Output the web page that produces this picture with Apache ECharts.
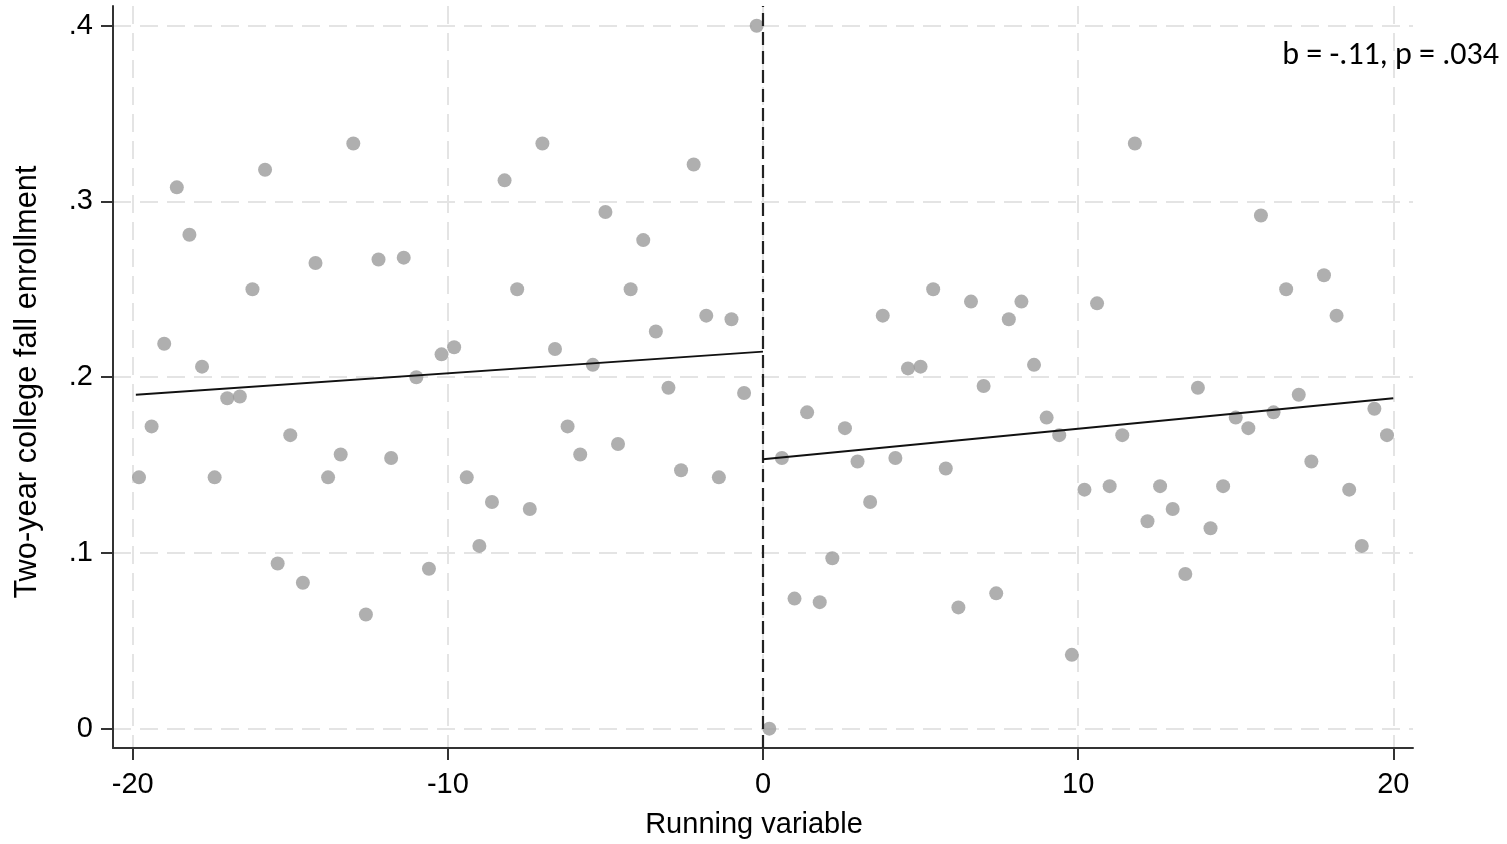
<!DOCTYPE html>
<html>
<head>
<meta charset="utf-8">
<title>Two-year college fall enrollment by running variable</title>
<script src="https://cdn.jsdelivr.net/npm/echarts@6.0.0/dist/echarts.min.js"></script>
<style>
  html, body { margin: 0; padding: 0; background: #ffffff; }
  #chart { width: 1507px; height: 844px; }
</style>
</head>
<body>
<div id="chart"></div>
<script>
// Binned means, left of the cutoff
const leftX = [
  -19.8, -19.4, -19.0, -18.6, -18.2, -17.8, -17.4, -17.0, -16.6, -16.2,
  -15.8, -15.4, -15.0, -14.6, -14.2, -13.8, -13.4, -13.0, -12.6, -12.2,
  -11.8, -11.4, -11.0, -10.6, -10.2, -9.8, -9.4, -9.0, -8.6, -8.2,
  -7.8, -7.4, -7.0, -6.6, -6.2, -5.8, -5.4, -5.0, -4.6, -4.2,
  -3.8, -3.4, -3.0, -2.6, -2.2, -1.8, -1.4, -1.0, -0.6, -0.2
];
const leftY = [
  0.143, 0.172, 0.219, 0.308, 0.281, 0.206, 0.143, 0.188, 0.189, 0.250,
  0.318, 0.094, 0.167, 0.083, 0.265, 0.143, 0.156, 0.333, 0.065, 0.267,
  0.154, 0.268, 0.200, 0.091, 0.213, 0.217, 0.143, 0.104, 0.129, 0.312,
  0.250, 0.125, 0.333, 0.216, 0.172, 0.156, 0.207, 0.294, 0.162, 0.250,
  0.278, 0.226, 0.194, 0.147, 0.321, 0.235, 0.143, 0.233, 0.191, 0.400
];

// Binned means, right of the cutoff
const rightX = [
  0.2, 0.6, 1.0, 1.4, 1.8, 2.2, 2.6, 3.0, 3.4, 3.8,
  4.2, 4.6, 5.0, 5.4, 5.8, 6.2, 6.6, 7.0, 7.4, 7.8,
  8.2, 8.6, 9.0, 9.4, 9.8, 10.2, 10.6, 11.0, 11.4, 11.8,
  12.2, 12.6, 13.0, 13.4, 13.8, 14.2, 14.6, 15.0, 15.4, 15.8,
  16.2, 16.6, 17.0, 17.4, 17.8, 18.2, 18.6, 19.0, 19.4, 19.8
];
const rightY = [
  0.000, 0.154, 0.074, 0.180, 0.072, 0.097, 0.171, 0.152, 0.129, 0.235,
  0.154, 0.205, 0.206, 0.250, 0.148, 0.069, 0.243, 0.195, 0.077, 0.233,
  0.243, 0.207, 0.177, 0.167, 0.042, 0.136, 0.242, 0.138, 0.167, 0.333,
  0.118, 0.138, 0.125, 0.088, 0.194, 0.114, 0.138, 0.177, 0.171, 0.292,
  0.180, 0.250, 0.190, 0.152, 0.258, 0.235, 0.136, 0.104, 0.182, 0.167
];

// Linear fits on each side: [x, y] at the ends of each segment
const leftFitX = [-19.9, 0];
const leftFitY = [0.190, 0.2145];
const rightFitX = [0, 20];
const rightFitY = [0.1533, 0.188];

// Axis ticks and the cutoff
const xTicks = [-20, -10, 0, 10, 20];
const yTicks = [0, 0.1, 0.2, 0.3, 0.4];
const cutoff = 0;

const xTitle = 'Running variable';
const yTitle = 'Two-year college fall enrollment';
const note = 'b = -.11, p = .034';

const pairs = (xs, ys) => xs.map((x, i) => [x, ys[i]]);

const axisFont = 'Liberation Sans, Arial, sans-serif';
const axisLineStyle = { color: '#333333', width: 2 };
const gridLineStyle = { color: '#e4e4e4', width: 2, type: [18, 9] };

const chart = echarts.init(document.getElementById('chart'), null, { renderer: 'canvas' });

chart.setOption({
  animation: false,
  backgroundColor: '#ffffff',
  grid: { left: 113, right: 94, top: 6, bottom: 96, containLabel: false },
  xAxis: {
    type: 'value',
    min: -20.625,
    max: 20.625,
    name: xTitle,
    nameLocation: 'middle',
    nameGap: 62,
    nameTextStyle: {
      fontFamily: axisFont,
      fontSize: 29,
      color: '#000000',
      padding: [0, 18, 0, 0]
    },
    axisLine: { show: true, onZero: false, lineStyle: axisLineStyle },
    axisTick: { show: true, length: 12, lineStyle: axisLineStyle, customValues: xTicks },
    axisLabel: {
      customValues: xTicks,
      margin: 22,
      fontFamily: axisFont,
      fontSize: 29,
      color: '#000000',
      formatter: v => String(v)
    },
    splitLine: { show: true, showMinLine: true, showMaxLine: true, lineStyle: gridLineStyle }
  },
  yAxis: {
    type: 'value',
    min: -0.011,
    max: 0.4112,
    name: yTitle,
    nameLocation: 'middle',
    nameGap: 70,
    nameTextStyle: {
      fontFamily: axisFont,
      fontSize: 30.8,
      color: '#000000',
      padding: [0, 10, 0, 0]
    },
    axisLine: { show: true, onZero: false, lineStyle: axisLineStyle },
    axisTick: { show: true, length: 12, lineStyle: axisLineStyle, customValues: yTicks },
    axisLabel: {
      customValues: yTicks,
      margin: 20,
      fontFamily: axisFont,
      fontSize: 29,
      color: '#000000',
      formatter: v => (Math.abs(v) < 1e-9 ? '0' : v.toFixed(1).replace(/^0/, ''))
    },
    splitLine: { show: true, showMinLine: true, showMaxLine: true, lineStyle: gridLineStyle }
  },
  series: [
    {
      name: 'Below cutoff',
      type: 'scatter',
      data: pairs(leftX, leftY),
      symbol: 'circle',
      symbolSize: 14,
      itemStyle: { color: '#9b9b9b' },
      z: 3,
      markLine: {
        silent: true,
        symbol: ['none', 'none'],
        label: { show: false },
        lineStyle: { color: '#222222', width: 2.2, type: [13, 6] },
        data: [{ xAxis: cutoff }]
      }
    },
    {
      name: 'Above cutoff',
      type: 'scatter',
      data: pairs(rightX, rightY),
      symbol: 'circle',
      symbolSize: 14,
      itemStyle: { color: '#9b9b9b' },
      z: 3
    },
    {
      name: 'Fit below',
      type: 'line',
      data: pairs(leftFitX, leftFitY),
      showSymbol: false,
      symbol: 'none',
      lineStyle: { color: '#111111', width: 1.8 },
      z: 5
    },
    {
      name: 'Fit above',
      type: 'line',
      data: pairs(rightFitX, rightFitY),
      showSymbol: false,
      symbol: 'none',
      lineStyle: { color: '#111111', width: 1.8 },
      z: 5
    }
  ],
  graphic: [
    {
      type: 'text',
      x: 1499,
      y: 56,
      style: {
        text: note,
        font: '32px Carlito, "Open Sans", sans-serif',
        fill: '#000000',
        align: 'right',
        verticalAlign: 'middle'
      }
    }
  ]
});
</script>
</body>
</html>
